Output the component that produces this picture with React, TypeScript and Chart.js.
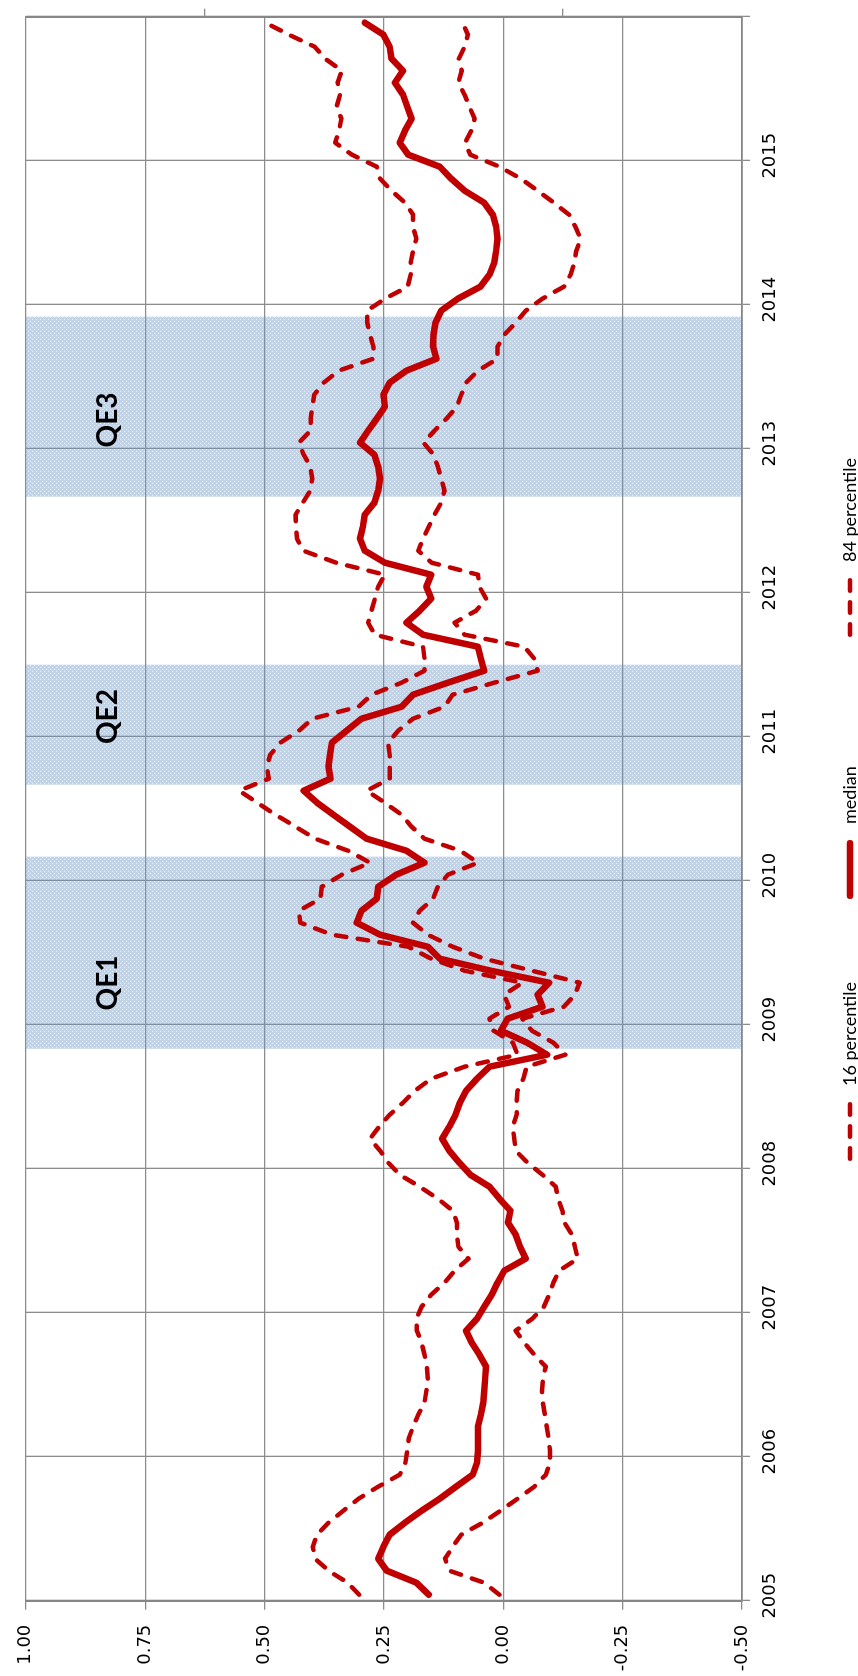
import React, { useEffect, useRef } from 'react';
import { Chart, registerables } from 'chart.js';

Chart.register(...registerables);

// ---------- data ----------
const firstYear = 2005;
const lastYear = 2016;
const monthCount = 132; // Jan 2005 .. Dec 2015, plotted mid-month
const monthTimes: number[] = Array.from({ length: monthCount }, (_, i) => firstYear + (i + 0.5) / 12);

const yearTicks = [2005, 2006, 2007, 2008, 2009, 2010, 2011, 2012, 2013, 2014, 2015, 2016];
const valueTicks = [-0.5, -0.25, 0, 0.25, 0.5, 0.75, 1.0];
const secondaryTicks = [-0.125, 0.625];

const median = [
  0.156, 0.182, 0.244, 0.262, 0.251, 0.238, 0.206, 0.171, 0.133, 0.099, 0.064, 0.055,
  0.053, 0.053, 0.053, 0.047, 0.042, 0.040, 0.038, 0.036, 0.050, 0.066, 0.078, 0.055,
  0.040, 0.024, 0.012, -0.002, -0.047, -0.035, -0.026, -0.010, -0.015, 0.008, 0.029, 0.069,
  0.092, 0.113, 0.128, 0.113, 0.100, 0.091, 0.078, 0.055, 0.029, -0.092, -0.050, 0.005,
  -0.009, -0.082, -0.072, -0.096, 0.026, 0.133, 0.158, 0.258, 0.307, 0.297, 0.265, 0.262,
  0.224, 0.165, 0.203, 0.286, 0.321, 0.356, 0.390, 0.418, 0.362, 0.366, 0.363, 0.359,
  0.328, 0.297, 0.213, 0.189, 0.116, 0.040, 0.047, 0.053, 0.168, 0.203, 0.175, 0.151,
  0.161, 0.151, 0.248, 0.290, 0.300, 0.294, 0.290, 0.270, 0.262, 0.258, 0.262, 0.270,
  0.300, 0.283, 0.265, 0.248, 0.251, 0.238, 0.203, 0.140, 0.147, 0.146, 0.142, 0.130,
  0.095, 0.048, 0.029, 0.019, 0.015, 0.012, 0.015, 0.022, 0.040, 0.081, 0.109, 0.133,
  0.199, 0.217, 0.206, 0.192, 0.201, 0.210, 0.227, 0.210, 0.234, 0.238, 0.251, 0.290,
];

const p84 = [
  0.302, 0.326, 0.366, 0.394, 0.399, 0.390, 0.366, 0.335, 0.303, 0.262, 0.217, 0.205,
  0.201, 0.198, 0.189, 0.178, 0.165, 0.161, 0.158, 0.160, 0.165, 0.171, 0.181, 0.182,
  0.171, 0.151, 0.123, 0.102, 0.073, 0.094, 0.097, 0.097, 0.106, 0.137, 0.175, 0.217,
  0.241, 0.258, 0.279, 0.260, 0.238, 0.210, 0.185, 0.151, 0.081, -0.030, -0.020, 0.020,
  0.029, -0.012, -0.002, -0.040, 0.081, 0.151, 0.199, 0.359, 0.425, 0.428, 0.383, 0.380,
  0.338, 0.279, 0.325, 0.394, 0.435, 0.477, 0.515, 0.553, 0.491, 0.495, 0.488, 0.467,
  0.428, 0.400, 0.303, 0.276, 0.213, 0.165, 0.165, 0.168, 0.269, 0.283, 0.276, 0.269,
  0.262, 0.248, 0.350, 0.419, 0.432, 0.434, 0.435, 0.420, 0.404, 0.400, 0.404, 0.418,
  0.428, 0.404, 0.403, 0.400, 0.396, 0.376, 0.345, 0.272, 0.272, 0.279, 0.285, 0.285,
  0.248, 0.200, 0.194, 0.194, 0.189, 0.182, 0.189, 0.189, 0.206, 0.234, 0.258, 0.265,
  0.317, 0.352, 0.344, 0.339, 0.349, 0.342, 0.347, 0.338, 0.373, 0.395, 0.449, 0.498,
];

const p16 = [
  0.008, 0.040, 0.113, 0.122, 0.106, 0.088, 0.043, 0.006, -0.030, -0.065, -0.089, -0.098,
  -0.098, -0.095, -0.091, -0.087, -0.083, -0.081, -0.083, -0.089, -0.065, -0.044, -0.026, -0.061,
  -0.085, -0.096, -0.105, -0.117, -0.156, -0.150, -0.144, -0.128, -0.124, -0.115, -0.110, -0.082,
  -0.051, -0.026, -0.023, -0.020, -0.028, -0.028, -0.030, -0.042, -0.049, -0.130, -0.105, -0.060,
  -0.040, -0.127, -0.150, -0.160, -0.060, 0.040, 0.106, 0.158, 0.189, 0.175, 0.147, 0.137,
  0.116, 0.053, 0.090, 0.165, 0.192, 0.213, 0.248, 0.286, 0.238, 0.238, 0.238, 0.241,
  0.220, 0.189, 0.123, 0.106, 0.019, -0.072, -0.065, -0.044, 0.081, 0.102, 0.057, 0.036,
  0.050, 0.053, 0.150, 0.178, 0.168, 0.156, 0.144, 0.130, 0.123, 0.130, 0.137, 0.146,
  0.167, 0.144, 0.119, 0.097, 0.088, 0.078, 0.053, 0.012, 0.012, -0.002, -0.026, -0.047,
  -0.082, -0.127, -0.141, -0.149, -0.153, -0.162, -0.151, -0.138, -0.106, -0.072, -0.037, 0.008,
  0.069, 0.080, 0.067, 0.060, 0.071, 0.081, 0.094, 0.087, 0.093, 0.081, 0.074, 0.085,
];

const seriesLabels = ['16 percentile', 'median', '84 percentile'];

const qeNames = ['QE1', 'QE2', 'QE3'];
const qeStart = [2008.833, 2010.667, 2012.667];
const qeEnd = [2010.167, 2011.5, 2013.917];
const qeLabelAt = [2009.29, 2011.14, 2013.2];
const qeLabelValue = 0.828;

// ---------- styles ----------
const W = 1676;
const H = 858;
const RED = '#C00000';
const GRID = '#8c8c8c';
const AXIS = '#868686';
const TICK_FONT = { family: '"DejaVu Sans", Verdana, sans-serif', size: 18 };

function makeTile(): HTMLCanvasElement {
  const c = document.createElement('canvas');
  c.width = 4;
  c.height = 4;
  const g = c.getContext('2d')!;
  g.fillStyle = 'rgba(110,150,200,0.42)';
  g.fillRect(0, 0, 4, 4);
  g.clearRect(0, 0, 1, 1);
  g.clearRect(2, 2, 1, 1);
  g.fillStyle = 'rgba(110,150,200,0.12)';
  g.fillRect(0, 0, 1, 1);
  g.fillRect(2, 2, 1, 1);
  return c;
}

const bandPlugin = {
  id: 'qeBands',
  beforeDatasetsDraw(chart: any) {
    const { ctx, chartArea, scales } = chart;
    const x = scales.x;
    const y = scales.y;
    ctx.save();
    const pat = ctx.createPattern(makeTile(), 'repeat');
    ctx.fillStyle = pat;
    qeStart.forEach((s, i) => {
      const x0 = x.getPixelForValue(s);
      const x1 = x.getPixelForValue(qeEnd[i]);
      ctx.fillRect(x0, chartArea.top, x1 - x0, chartArea.bottom - chartArea.top);
    });
    ctx.fillStyle = '#000';
    ctx.font = 'bold 28px Lato, "Liberation Sans", sans-serif';
    ctx.textAlign = 'center';
    ctx.textBaseline = 'middle';
    qeNames.forEach((n, i) => {
      ctx.fillText(n, x.getPixelForValue(qeLabelAt[i]), y.getPixelForValue(qeLabelValue));
    });
    ctx.restore();
  },
};

// Legend laid out in equal-width columns, like the original spreadsheet legend
const legendPlugin = {
  id: 'sideLegend',
  afterDraw(chart: any) {
    const { ctx } = chart;
    const startX = 515;
    const column = 262;
    const sample = 59;
    const textGap = 16;
    const yc = 850;
    ctx.save();
    ctx.font = '18px Lato, "Open Sans", sans-serif';
    chart.data.datasets.forEach((d: any, k: number) => {
      const x = startX + k * column;
      const w = d.borderWidth;
      ctx.beginPath();
      ctx.strokeStyle = d.borderColor;
      ctx.lineWidth = w;
      ctx.lineCap = 'round';
      ctx.setLineDash(d.borderDash || []);
      ctx.moveTo(x + w / 2, yc);
      ctx.lineTo(x + sample - w / 2, yc);
      ctx.stroke();
      ctx.setLineDash([]);
      ctx.fillStyle = '#000';
      ctx.textAlign = 'left';
      ctx.textBaseline = 'middle';
      ctx.fillText(d.label, x + sample + textGap, yc);
    });
    ctx.restore();
  },
};

function toPoints(vals: number[]) {
  return vals.map((v, i) => ({ x: monthTimes[i], y: v }));
}

export default function App() {
  const ref = useRef<HTMLCanvasElement>(null);

  useEffect(() => {
    const dashed = {
      borderColor: RED,
      borderWidth: 4.5,
      borderDash: [10.5, 11.5],
      borderCapStyle: 'round',
      borderJoinStyle: 'round',
      pointRadius: 0,
      fill: false,
      tension: 0,
    };
    const chart = new Chart(ref.current!, {
      type: 'line',
      data: {
        datasets: [
          { ...dashed, label: seriesLabels[0], data: toPoints(p16) },
          {
            label: seriesLabels[1],
            data: toPoints(median),
            borderColor: RED,
            borderWidth: 6.5,
            borderCapStyle: 'round',
            borderJoinStyle: 'round',
            pointRadius: 0,
            fill: false,
            tension: 0,
          },
          { ...dashed, label: seriesLabels[2], data: toPoints(p84) },
        ] as any,
      },
      options: {
        responsive: false,
        animation: false,
        devicePixelRatio: 1,
        layout: { padding: { top: 22.5, left: 0, right: 0, bottom: 0 } },
        plugins: { legend: { display: false }, tooltip: { enabled: false } },
        scales: {
          x: {
            type: 'linear',
            min: firstYear,
            max: lastYear,
            afterBuildTicks: (s: any) => {
              s.ticks = yearTicks.map((v) => ({ value: v }));
            },
            ticks: {
              autoSkip: false,
              maxRotation: 0,
              minRotation: 0,
              padding: 10,
              labelOffset: 5,
              color: '#000',
              font: TICK_FONT,
              callback: (v: any) => (v === lastYear ? '' : String(v)),
            },
            grid: { color: GRID, lineWidth: 1.3, tickLength: 8 },
            border: { display: true, color: AXIS, width: 1.7 },
            afterFit: (s: any) => {
              s.height = 116;
            },
          },
          y: {
            type: 'linear',
            min: -0.5,
            max: 1.0,
            afterBuildTicks: (s: any) => {
              s.ticks = valueTicks.map((v) => ({ value: v }));
            },
            ticks: {
              padding: 15,
              color: '#000',
              font: TICK_FONT,
              callback: (v: any) => Number(v).toFixed(2),
            },
            grid: { color: GRID, lineWidth: 1.3, tickLength: 9 },
            border: { display: true, color: AXIS, width: 2 },
            afterFit: (s: any) => {
              s.width = 75.3;
            },
          },
          y2: {
            type: 'linear',
            position: 'right',
            min: -0.5,
            max: 1.0,
            afterBuildTicks: (s: any) => {
              s.ticks = secondaryTicks.map((v) => ({ value: v }));
            },
            ticks: { display: false },
            grid: { drawOnChartArea: false, color: GRID, lineWidth: 1.3, tickLength: 8 },
            border: { display: true, color: AXIS, width: 1.7 },
            afterFit: (s: any) => {
              s.width = 16.7;
            },
          },
        },
      } as any,
      plugins: [bandPlugin, legendPlugin],
    });
    return () => chart.destroy();
  }, []);

  return (
    <div
      style={{
        position: 'absolute',
        left: 0,
        top: 0,
        width: W,
        height: H,
        transformOrigin: '0 0',
        transform: `translateY(${W}px) rotate(-90deg)`,
        background: '#fff',
      }}
    >
      <canvas ref={ref} width={W} height={H} style={{ display: 'block', width: W, height: H }} />
    </div>
  );
}
